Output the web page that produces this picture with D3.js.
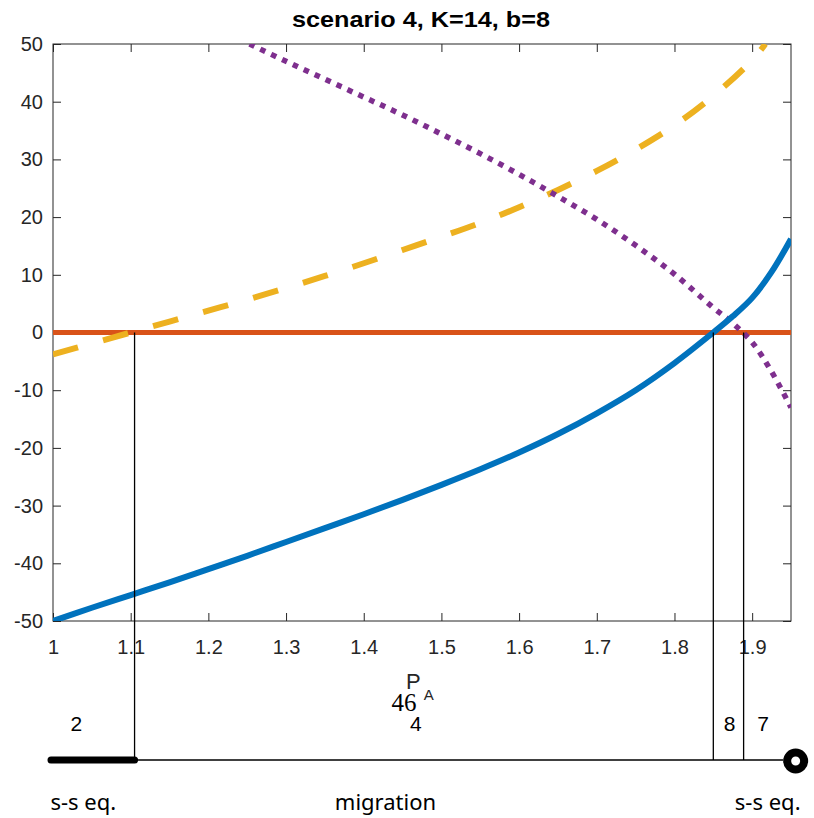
<!DOCTYPE html>
<html>
<head>
<meta charset="utf-8">
<script src="https://cdn.jsdelivr.net/npm/d3@7"></script>
<style>
  body { margin: 0; background: #fff; }
  svg { display: block; }
  .tick text { font-family: "Liberation Sans", Arial, sans-serif; font-size: 20px; fill: #262626; }
</style>
</head>
<body>
<svg id="chart" width="814" height="818"></svg>
<script>
// values
var xTicks = [1, 1.1, 1.2, 1.3, 1.4, 1.5, 1.6, 1.7, 1.8, 1.9];
var yTicks = [-50, -40, -30, -20, -10, 0, 10, 20, 30, 40, 50];

var blueX = [1.00, 1.05, 1.10, 1.15, 1.20, 1.25, 1.30, 1.35, 1.40, 1.45, 1.50, 1.55, 1.60, 1.65, 1.70, 1.75, 1.80, 1.85, 1.875, 1.90, 1.925, 1.95];
var blueY = [-50, -47.7, -45.5, -43.3, -41.0, -38.7, -36.3, -33.9, -31.5, -29.0, -26.4, -23.7, -20.8, -17.6, -14.0, -10.0, -5.3, 0, 2.8, 6.0, 10.5, 16.2];

var yellowX = [1.00, 1.05, 1.10, 1.15, 1.20, 1.25, 1.30, 1.35, 1.40, 1.45, 1.50, 1.55, 1.60, 1.65, 1.70, 1.75, 1.80, 1.85, 1.90, 1.917];
var yellowY = [-3.8, -1.9, 0, 1.9, 3.8, 5.7, 7.7, 9.8, 12.0, 14.3, 16.6, 19.0, 21.7, 24.7, 28.0, 31.7, 35.9, 41.0, 47.2, 50];

var purpleX = [1.253, 1.30, 1.35, 1.40, 1.45, 1.50, 1.55, 1.60, 1.65, 1.70, 1.75, 1.80, 1.85, 1.875, 1.90, 1.925, 1.95];
var purpleY = [50, 47.0, 43.9, 40.8, 37.7, 34.4, 31.0, 27.4, 23.6, 19.6, 15.1, 10.1, 4.3, 1.6, -1.7, -6.8, -13];

var zeroX = [1, 1.95];
var zeroY = [0, 0];

// roots where curves cross zero -> region borders
var crossX = [1.105, 1.85, 1.889];
var regionX = [1.03, 1.467, 1.871, 1.914];
var regionText = ["2", "4", "8", "7"];
var eqX = [1.039, 1.428, 1.92];
var eqText = ["s-s eq.", "migration", "s-s eq."];

var colorBlue = "#0072BD";
var colorOrange = "#D95319";
var colorYellow = "#EDB120";
var colorPurple = "#7E2F8E";

var plotLeft = 53, plotRight = 791, plotTop = 44, plotBottom = 621;
var bandY = 760;

var svg = d3.select("#chart");
var x = d3.scaleLinear().domain([1, 1.95]).range([plotLeft, plotRight]);
var y = d3.scaleLinear().domain([-50, 50]).range([plotBottom, plotTop]);

svg.append("defs").append("clipPath").attr("id", "plotClip")
    .append("rect").attr("x", plotLeft).attr("y", plotTop)
    .attr("width", plotRight - plotLeft).attr("height", plotBottom - plotTop);

// axes, ticks inside like matlab
var tickLen = 8;
var fmt = function (d) { return String(d); };
svg.append("g").attr("transform", "translate(0," + plotBottom + ")")
    .call(d3.axisBottom(x).tickValues(xTicks).tickSizeInner(-tickLen).tickSizeOuter(0).tickPadding(19).tickFormat(fmt));
svg.append("g").attr("transform", "translate(0," + plotTop + ")")
    .call(d3.axisTop(x).tickValues(xTicks).tickSizeInner(-tickLen).tickSizeOuter(0).tickFormat(""));
svg.append("g").attr("transform", "translate(" + plotLeft + ",0)")
    .call(d3.axisLeft(y).tickValues(yTicks).tickSizeInner(-tickLen).tickSizeOuter(0).tickPadding(10).tickFormat(fmt));
svg.append("g").attr("transform", "translate(" + plotRight + ",0)")
    .call(d3.axisRight(y).tickValues(yTicks).tickSizeInner(-tickLen).tickSizeOuter(0).tickFormat(""));
svg.selectAll(".domain").remove();
svg.selectAll(".tick line").attr("stroke", "#262626");

svg.append("rect").attr("x", plotLeft).attr("y", plotTop)
    .attr("width", plotRight - plotLeft).attr("height", plotBottom - plotTop)
    .attr("fill", "none").attr("stroke", "#262626").attr("stroke-width", 1);

function pts(xs, ys) {
    return xs.map(function (d, i) { return [d, ys[i]]; });
}
var line = d3.line().curve(d3.curveCatmullRom.alpha(0.5))
    .x(function (d) { return x(d[0]); })
    .y(function (d) { return y(d[1]); });

var plot = svg.append("g").attr("clip-path", "url(#plotClip)");

// vertical borders from the zero line down to the band
svg.selectAll(".cross").data(crossX).enter().append("line")
    .attr("class", "cross")
    .attr("x1", function (d) { return x(d); }).attr("x2", function (d) { return x(d); })
    .attr("y1", y(0)).attr("y2", bandY)
    .attr("stroke", "#000").attr("stroke-width", 1.3);

plot.append("path").attr("d", line(pts(zeroX, zeroY)))
    .attr("fill", "none").attr("stroke", colorOrange).attr("stroke-width", 5);
plot.append("path").attr("d", line(pts(yellowX, yellowY)))
    .attr("fill", "none").attr("stroke", colorYellow).attr("stroke-width", 6)
    .attr("stroke-dasharray", "26,26");
plot.append("path").attr("d", line(pts(purpleX, purpleY)))
    .attr("fill", "none").attr("stroke", colorPurple).attr("stroke-width", 5.5)
    .attr("stroke-dasharray", "5.5,6.5");
plot.append("path").attr("d", line(pts(blueX, blueY)))
    .attr("fill", "none").attr("stroke", colorBlue).attr("stroke-width", 6);

// title
svg.append("text").attr("x", 421).attr("y", 27).attr("text-anchor", "middle")
    .attr("textLength", 258).attr("lengthAdjust", "spacingAndGlyphs")
    .style("font-family", "Liberation Sans, Arial, sans-serif")
    .style("font-size", "22px").style("font-weight", "bold").style("fill", "#000")
    .text("scenario 4, K=14, b=8");

// x label P_A
var xl = svg.append("text").attr("x", 406).attr("y", 689)
    .style("font-family", "Liberation Sans, Arial, sans-serif")
    .style("font-size", "22px").style("fill", "#262626");
xl.append("tspan").text("P");
xl.append("tspan").attr("dx", 3).attr("dy", 11).style("font-size", "15px").text("A");

svg.append("text").attr("x", 404).attr("y", 711).attr("text-anchor", "middle")
    .style("font-family", "'Liberation Serif', 'DejaVu Serif', serif")
    .style("font-size", "25px").style("fill", "#000")
    .text("46");

// bottom band
svg.append("line").attr("x1", x(1) - 3).attr("x2", x(1.95) - 8)
    .attr("y1", bandY).attr("y2", bandY)
    .attr("stroke", "#000").attr("stroke-width", 1.3);
svg.append("line").attr("x1", x(1) - 2).attr("x2", x(crossX[0]))
    .attr("y1", bandY).attr("y2", bandY)
    .attr("stroke", "#000").attr("stroke-width", 7).attr("stroke-linecap", "round");
svg.append("circle").attr("cx", x(1.956)).attr("cy", bandY + 1).attr("r", 8.5)
    .attr("fill", "#fff").attr("stroke", "#000").attr("stroke-width", 8);

svg.selectAll(".region").data(regionText).enter().append("text")
    .attr("class", "region")
    .attr("x", function (d, i) { return x(regionX[i]); }).attr("y", 731)
    .attr("text-anchor", "middle")
    .style("font-family", "Liberation Sans, Arial, sans-serif")
    .style("font-size", "21px").style("fill", "#000")
    .text(function (d) { return d; });

svg.selectAll(".eq").data(eqText).enter().append("text")
    .attr("class", "eq")
    .attr("x", function (d, i) { return x(eqX[i]); }).attr("y", 810)
    .attr("text-anchor", "middle")
    .style("font-family", "Noto Sans, sans-serif")
    .style("font-size", "22px").style("fill", "#000")
    .text(function (d) { return d; });
</script>
</body>
</html>
